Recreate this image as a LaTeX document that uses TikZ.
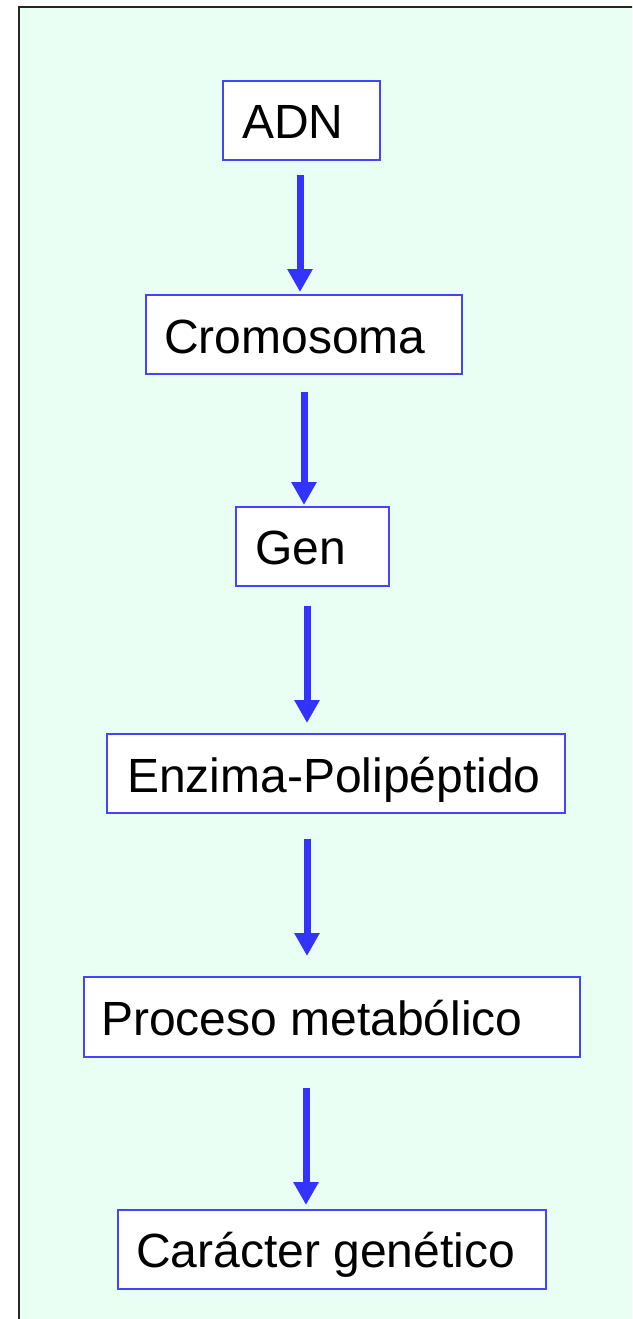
\documentclass[tikz,border=0pt]{standalone}
\usepackage{fontspec}
\setmainfont{Liberation Sans}
\usetikzlibrary{arrows.meta}
\definecolor{bgc}{HTML}{E9FFF3}
\definecolor{boxc}{HTML}{4444FF}
\definecolor{arrc}{HTML}{3333FF}
\tikzset{
  box/.style={draw=boxc, line width=1.6pt, fill=white, rectangle, inner sep=0pt},
  lbl/.style={anchor=base west, inner sep=0pt, font=\fontsize{48}{58}\selectfont, text=black},
  arr/.style={draw=arrc, line width=7pt, -{Triangle[width=24pt,length=23pt]}}
}
\begin{document}
\begin{tikzpicture}[x=1pt,y=-1pt]
\useasboundingbox (0,0) rectangle (632,1319);
\clip (0,0) rectangle (632,1319);
\fill[white] (0,0) rectangle (632,1319);
\draw[fill=bgc, line width=2pt, draw=black!85] (19,7) rectangle (660,1340);
% boxes
\node[box, minimum width=157pt, minimum height=79pt] (adn) at (301.5,120.5) {};
\node[box, minimum width=316pt, minimum height=79pt] (crom) at (304,334.5) {};
\node[box, minimum width=153pt, minimum height=79pt] (gen) at (312.5,546.5) {};
\node[box, minimum width=458pt, minimum height=79pt] (enz) at (336,773.5) {};
\node[box, minimum width=496pt, minimum height=80pt] (proc) at (332,1017) {};
\node[box, minimum width=428pt, minimum height=79pt] (car) at (332,1249.5) {};
% labels
\node[lbl] (tadn) at (242,139) {ADN};
\node[lbl] (tcrom) at (164,353) {Cromosoma};
\node[lbl] (tgen) at (255,564) {Gen};
\node[lbl] (tenz) at (127,792) {Enzima-Polipéptido};
\node[lbl] (tproc) at (101,1035) {Proceso metabólico};
\node[lbl] (tcar) at (136,1267) {Carácter genético};
% arrow end points
\coordinate (a1s) at (300,175); \coordinate (a1e) at (300,292);
\coordinate (a2s) at (304,392); \coordinate (a2e) at (304,505);
\coordinate (a3s) at (307,606); \coordinate (a3e) at (307,723);
\coordinate (a4s) at (307,839); \coordinate (a4e) at (307,956);
\coordinate (a5s) at (306,1088); \coordinate (a5e) at (306,1205);
\draw[arr] (a1s) -- (a1e);
\draw[arr] (a2s) -- (a2e);
\draw[arr] (a3s) -- (a3e);
\draw[arr] (a4s) -- (a4e);
\draw[arr] (a5s) -- (a5e);
\end{tikzpicture}
\end{document}
